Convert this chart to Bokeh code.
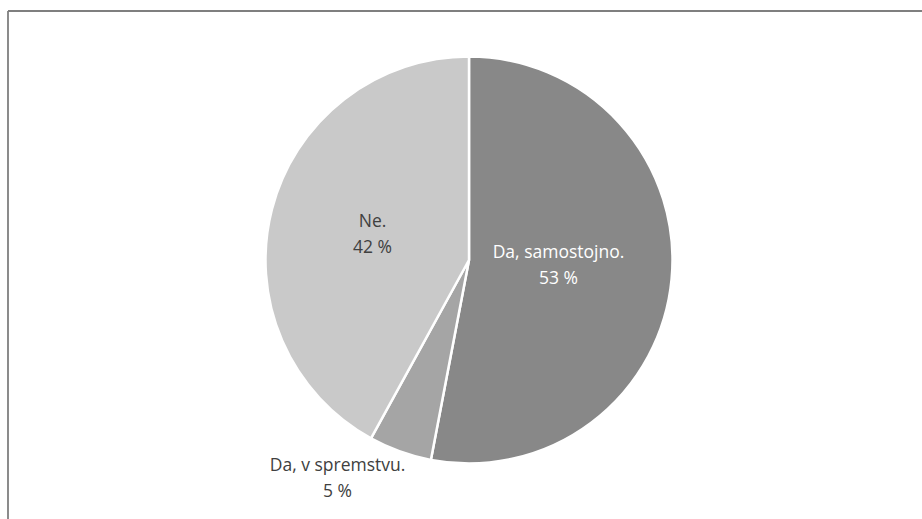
import math
from bokeh.plotting import figure
from bokeh.models import Range1d, ColumnDataSource
from bokeh.core.properties import value
from bokeh.embed import file_html
from bokeh.resources import INLINE

# ---- data ----
categories = ["Da, samostojno.", "Da, v spremstvu.", "Ne."]
percent = [53, 5, 42]
colors = ["#888888", "#a5a5a5", "#c9c9c9"]
label_colors = ["#ffffff", "#404040", "#404040"]

W, H = 922, 519
p = figure(width=W, height=H, x_range=Range1d(0, W), y_range=Range1d(0, H),
           output_backend="svg", toolbar_location=None, min_border=0)
p.axis.visible = False
p.grid.visible = False
p.outline_line_color = None
p.background_fill_color = "white"
p.border_fill_color = "white"

# frame lines (top and left only, chart is cropped)
p.line([7.5, 7.5], [0, H - 10.5], line_color="#7f7f7f", line_width=1.8)
p.line([7.5, W], [H - 10.5, H - 10.5], line_color="#7f7f7f", line_width=1.8)

cx, cy, r = 468.5, 259.5, 203.5
total = sum(percent)
starts, ends, mids = [], [], []
acc = 0.0
for v in percent:
    a0 = math.pi / 2 - 2 * math.pi * acc / total
    acc += v
    a1 = math.pi / 2 - 2 * math.pi * acc / total
    starts.append(a0)
    ends.append(a1)
    mids.append((a0 + a1) / 2)

src = ColumnDataSource(dict(start=starts, end=ends, color=colors))
p.wedge(x=cx, y=cy, radius=r, start_angle="start", end_angle="end",
        direction="clock", fill_color="color", line_color="white",
        line_width=2.5, source=src)

# labels (two lines each)
label_r = [0.44, 1.247, 0.493]
angle_shift = [0.055, -0.199, -0.026]
lx, ly1, ly2, t1, t2 = [], [], [], [], []
for i, c in enumerate(categories):
    a = mids[i] + angle_shift[i]
    x = cx + r * label_r[i] * math.cos(a)
    y = cy + r * label_r[i] * math.sin(a)
    lx.append(x)
    ly1.append(y + 13)
    ly2.append(y - 13)
    t1.append(c)
    t2.append(f"{percent[i]} %")

lsrc = ColumnDataSource(dict(x=lx, y1=ly1, y2=ly2, t1=t1, t2=t2, color=label_colors))
for yk, tk in (("y1", "t1"), ("y2", "t2")):
    p.text(x="x", y=yk, text=tk, source=lsrc, text_color="color",
           text_font=value("Open Sans"), text_font_size="17.5px",
           text_align="center", text_baseline="middle")

open("out.html", "w").write(file_html(p, INLINE))
